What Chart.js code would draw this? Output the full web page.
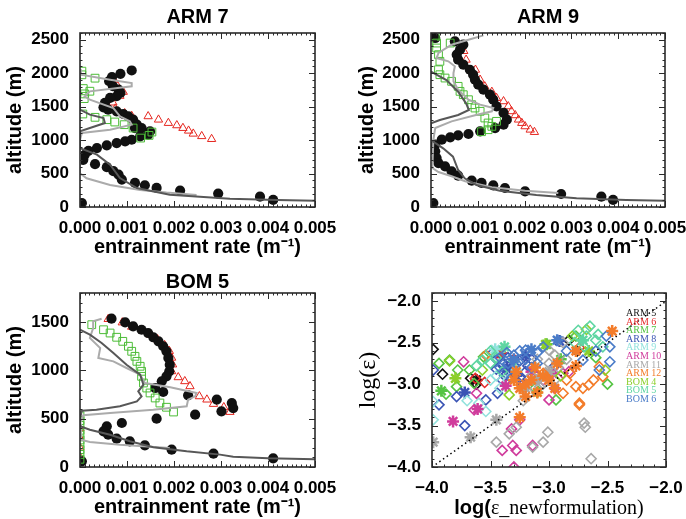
<!DOCTYPE html>
<html><head><meta charset="utf-8">
<script src="https://cdn.jsdelivr.net/npm/chart.js@4"></script>
<style>
body{margin:0;background:#fff;width:686px;height:519px;position:relative;overflow:hidden}
canvas{position:absolute}
</style></head><body>
<canvas id="c1" width="343" height="260" style="left:0;top:0"></canvas>
<canvas id="c2" width="343" height="260" style="left:343px;top:0"></canvas>
<canvas id="c3" width="343" height="259" style="left:0;top:260px"></canvas>
<canvas id="c4" width="343" height="259" style="left:343px;top:260px"></canvas>
<script>
// ---------- tick values / labels ----------
const profXTicks = [0, 0.001, 0.002, 0.003, 0.004, 0.005];
const profXLabels = ['0.000', '0.001', '0.002', '0.003', '0.004', '0.005'];
const armYTicks = [0, 500, 1000, 1500, 2000, 2500];
const armYLabels = ['0', '500', '1000', '1500', '2000', '2500'];
const bomYTicks = [0, 500, 1000, 1500];
const bomYLabels = ['0', '500', '1000', '1500'];
const logTicks = [-4, -3.5, -3, -2.5, -2];
const logLabels = ['\u22124.0', '\u22123.5', '\u22123.0', '\u22122.5', '\u22122.0'];
const panelTitles = ['ARM 7', 'ARM 9', 'BOM 5'];

// ---------- ARM 7 profiles [entrainment rate, altitude] ----------
const arm7Dots = [[0.00110,2040],[0.00086,1990],[0.00068,1940],[0.00062,1880],[0.00070,1805],[0.00082,1755],[0.00086,1705],[0.00078,1655],[0.00064,1630],[0.00053,1555],[0.00050,1490],[0.00060,1455],[0.00078,1430],[0.00092,1390],[0.00103,1355],[0.00113,1305],[0.00121,1230],[0.00117,1180],[0.00131,1180],[0.00149,1130],[0.00145,1080],[0.00128,1055],[0.00110,1005],[0.00096,980],[0.00078,955],[0.00057,920],[0.00036,880],[0.00018,840],[0.00010,780],[0.00007,705],[0.00032,640],[0.00057,595],[0.00071,535],[0.00082,485],[0.00089,410],[0.00117,360],[0.00138,325],[0.00163,285],[0.00213,245],[0.00294,200],[0.00383,155],[0.00411,105],[0.00004,60]];
const arm7Tri = [[0.00072,1900],[0.00078,1830],[0.00092,1720],[0.00085,1660],[0.00070,1560],[0.00075,1470],[0.00095,1400],[0.00110,1360],[0.00145,1355],[0.00167,1305],[0.00188,1255],[0.00206,1220],[0.00219,1180],[0.00231,1140],[0.00241,1095],[0.00259,1058],[0.00280,1015]];
const arm7Sq = [[0.00004,2030],[0.00004,1975],[0.00032,1925],[0.00007,1770],[0.00021,1730],[0.00010,1690],[0.00009,1620],[0.00006,1390],[0.00032,1340],[0.00057,1305],[0.00074,1270],[0.00094,1230],[0.00113,1180],[0.00153,1120],[0.00147,1070],[0.00129,1030]];
const arm7Light = [[0,2060],[0.00002,1977],[0.00064,1902],[0.00110,1852],[0.00110,1803],[0.00021,1728],[0.00010,1654],[0.00021,1603],[0.00071,1479],[0.00085,1355],[0.00106,1280],[0.00110,1230],[0.00064,1155],[0.00004,1106],[0,1000],[0,503],[0.00014,430],[0.00064,330],[0.00128,255],[0.00184,215],[0.00248,180]];
const arm7Dark = [[0,1950],[0,1454],[0.00021,1380],[0.00050,1330],[0.00053,1255],[0.00021,1180],[0,1131],[0,880],[0.00036,782],[0.00064,632],[0.00085,433],[0.00121,284],[0.00191,184],[0.00319,124],[0.00420,104],[0.00500,94]];

// ---------- ARM 9 profiles ----------
const arm9Dots = [[0.00009,2525],[0.00051,2476],[0.00069,2425],[0.00062,2350],[0.00055,2276],[0.00058,2201],[0.00069,2126],[0.00083,2051],[0.00090,1977],[0.00094,1902],[0.00101,1828],[0.00112,1753],[0.00126,1678],[0.00133,1603],[0.00140,1504],[0.00155,1405],[0.00162,1305],[0.00155,1230],[0.00137,1180],[0.00105,1131],[0.00080,1091],[0.00058,1071],[0.00041,1041],[0.00023,1006],[0.00009,931],[0.00009,832],[0.00012,732],[0.00016,657],[0.00030,608],[0.00044,533],[0.00058,468],[0.00087,393],[0.00108,359],[0.00133,324],[0.00158,284],[0.00201,234],[0.00278,194],[0.00364,154],[0.00389,105],[0.00005,60]];
const arm9Tri = [[0.00070,2330],[0.00075,2200],[0.00095,2050],[0.00105,1900],[0.00115,1800],[0.00130,1720],[0.00140,1628],[0.00155,1579],[0.00165,1504],[0.00172,1430],[0.00180,1370],[0.00187,1305],[0.00194,1255],[0.00201,1205],[0.00212,1155],[0.00221,1120]];
const arm9Sq = [[0.00009,2550],[0.00012,2450],[0.00012,2376],[0.00041,2450],[0.00016,2276],[0.00019,2177],[0.00016,2051],[0.00019,1977],[0.00030,1927],[0.00044,1878],[0.00058,1803],[0.00062,1728],[0.00069,1678],[0.00080,1603],[0.00087,1529],[0.00094,1479],[0.00105,1430],[0.00115,1330],[0.00122,1255],[0.00130,1205],[0.00122,1155],[0.00140,1280],[0.00108,1125]];
const arm9Light = [[0.00112,2565],[0.00080,2500],[0.00044,2425],[0.00016,2301],[0.00012,2226],[0.00037,2177],[0.00051,2102],[0.00048,2002],[0.00048,1878],[0.00058,1753],[0.00080,1603],[0.00105,1529],[0.00133,1479],[0.00130,1430],[0.00094,1370],[0.00044,1280],[0.00009,1180],[0.00005,1000],[0.00003,583],[0.00016,523],[0.00044,459],[0.00073,384],[0.00130,294],[0.00201,244],[0.00272,209]];
const arm9Dark = [[0,2022],[0.00033,1897],[0.00058,1723],[0.00075,1549],[0.00081,1449],[0.00058,1375],[0.00019,1300],[0,1250],[0,1000],[0.00026,877],[0.00047,752],[0.00058,553],[0.00072,429],[0.00097,329],[0.00147,244],[0.00225,179],[0.00311,130],[0.00417,105],[0.00499,94]];

// ---------- BOM 5 profiles ----------
const bom5Dots = [[0.00067,1534],[0.00096,1497],[0.00113,1455],[0.00131,1420],[0.00145,1386],[0.00156,1342],[0.00167,1300],[0.00177,1249],[0.00184,1197],[0.00188,1128],[0.00191,1058],[0.00190,990],[0.00184,938],[0.00174,887],[0.00160,817],[0.00177,776],[0.00230,741],[0.00291,697],[0.00301,576],[0.00323,662],[0.00326,610],[0.00245,541],[0.00163,500],[0.00089,455],[0.00057,421],[0.00050,369],[0.00060,334],[0.00078,293],[0.00106,266],[0.00138,224],[0.00195,179],[0.00284,138],[0.00411,90],[0.00004,59]];
const bom5Tri = [[0.00060,1530],[0.00090,1495],[0.00110,1450],[0.00135,1410],[0.00150,1370],[0.00165,1320],[0.00180,1260],[0.00190,1200],[0.00195,1130],[0.00197,1060],[0.00195,990],[0.00209,928],[0.00223,887],[0.00234,835],[0.00254,731],[0.00270,697],[0.00284,652],[0.00306,618],[0.00319,569],[0,100],[0,200],[0,300],[0,400]];
const bom5Sq = [[0.00025,1472],[0.00050,1420],[0.00064,1386],[0.00078,1342],[0.00091,1300],[0.00103,1249],[0.00110,1197],[0.00117,1145],[0.00121,1093],[0.00128,1042],[0.00131,990],[0.00131,938],[0.00135,869],[0.00142,817],[0.00149,766],[0.00160,714],[0.00170,662],[0.00184,618],[0.00199,569],[0,80],[0,130],[0,180],[0,230],[0,280],[0,330],[0,380],[0,430],[0,480],[0,530]];
const bom5Light = [[0.00046,1534],[0.00028,1507],[0.00028,1438],[0.00021,1334],[0.00043,1231],[0.00039,1128],[0.00071,1093],[0.00099,1024],[0.00128,955],[0.00138,869],[0.00192,825],[0.00248,766],[0.00245,731],[0.00230,697],[0.00227,628],[0.00156,593],[0.00064,559],[0.00007,535],[0,450],[0.00002,283],[0.00021,259],[0.00085,231],[0.00191,197]];
const bom5Dark = [[0,1420],[0.00021,1369],[0.00046,1283],[0.00071,1179],[0.00099,1058],[0.00128,955],[0.00135,851],[0.00124,783],[0.00131,731],[0.00121,679],[0.00085,628],[0.00035,593],[0.00004,583],[0,500],[0,421],[0.00021,386],[0.00064,334],[0.00106,266],[0.00156,204],[0.00227,162],[0.00298,128],[0.00326,107],[0.00400,90],[0.00500,80]];

// ---------- log-log scatter [log(eps_new), log(eps)] ----------
const seriesNames = ['ARM 5','ARM 6','ARM 7','ARM 8','ARM 9','ARM 10','ARM 11','ARM 12','BOM 4','BOM 5','BOM 6'];
const seriesColors = ['#111111','#e52a2a','#55c443','#3a54b4','#92e2dd','#d03c9c','#a8a8a8','#f37c2a','#8ccf2a','#5ed6a2','#4a7cc8'];
const arm5Dia = [[-3.99,-2.58],[-3.91,-2.88],[-3.67,-2.93],[-2.83,-2.47],[-2.76,-2.60],[-3.62,-3.00]];
const arm5Ast = [[-3.62,-2.95]];
const arm6Dia = [[-3.41,-2.62],[-3.63,-2.93],[-2.74,-2.56],[-3.30,-2.70],[-3.55,-2.98]];
const arm6Ast = [[-3.42,-2.64]];
const arm7Dia = [[-3.94,-2.75],[-3.85,-2.71],[-3.78,-2.83],[-3.68,-2.83],[-3.64,-2.99],[-3.79,-3.03],[-2.94,-3.19],[-2.77,-2.42],[-3.88,-3.12],[-2.60,-2.68],[-3.12,-3.05],[-2.50,-3.00],[-3.56,-2.67]];
const arm7Ast = [[-3.92,-3.08],[-3.02,-2.52],[-2.90,-2.70]];
const arm8Dia = [[-3.99,-2.83],[-3.94,-3.25],[-3.79,-3.15],[-3.72,-3.50],[-3.54,-3.19],[-3.44,-3.11],[-3.35,-2.85],[-3.30,-2.78],[-3.25,-2.72],[-3.20,-2.85],[-3.40,-2.95],[-3.15,-2.70],[-2.95,-2.78],[-3.45,-2.70],[-3.40,-2.75],[-3.35,-2.68],[-3.30,-2.85],[-3.25,-2.92],[-3.45,-2.82],[-3.38,-2.90],[-3.18,-2.78],[-3.12,-2.88],[-3.22,-3.00],[-3.48,-2.62]];
const arm8Ast = [[-2.91,-2.48],[-3.36,-2.80],[-3.28,-2.90],[-3.20,-2.65],[-3.72,-3.10]];
const arm9Dia = [[-3.99,-3.21],[-3.99,-3.43],[-3.54,-3.33],[-3.60,-3.23],[-3.28,-2.83],[-3.70,-3.20],[-3.45,-2.90],[-3.10,-2.95],[-3.50,-2.95],[-3.42,-3.05],[-3.35,-2.95]];
const arm9Ast = [[-3.46,-2.58]];
const arm10Dia = [[-3.73,-2.73],[-3.32,-3.54],[-3.31,-3.74],[-3.28,-3.80],[-3.40,-3.80],[-3.14,-3.74],[-2.88,-2.87],[-2.83,-2.85],[-3.00,-3.19],[-3.25,-3.43],[-3.30,-4.00],[-3.64,-3.31],[-3.62,-3.11],[-3.05,-2.95],[-2.95,-3.05]];
const arm10Ast = [[-3.82,-3.45],[-3.61,-3.30],[-3.37,-3.02],[-3.15,-2.85],[-3.22,-3.03],[-2.97,-2.87]];
const arm11Dia = [[-3.45,-3.70],[-3.34,-3.60],[-3.28,-3.52],[-3.14,-3.76],[-3.05,-3.70],[-3.01,-3.58],[-2.70,-3.47],[-2.69,-3.52],[-2.64,-3.90],[-3.00,-2.59],[-2.88,-2.50],[-3.08,-3.03],[-3.17,-3.11],[-2.95,-2.65],[-3.22,-3.20],[-3.10,-2.70],[-3.00,-2.75],[-2.92,-2.80],[-3.05,-3.00],[-2.85,-2.70],[-3.15,-2.90],[-2.95,-2.95]];
const arm11Ast = [[-3.99,-3.70],[-3.67,-3.64],[-3.45,-3.43],[-3.11,-2.95],[-3.20,-3.05],[-3.00,-2.85]];
const arm12Dia = [[-2.88,-3.11],[-2.77,-3.03],[-2.66,-3.01],[-2.57,-2.79],[-2.54,-2.91],[-2.74,-3.23],[-3.05,-2.87],[-3.54,-2.65],[-2.62,-2.95],[-2.85,-2.95],[-2.82,-2.87],[-2.71,-3.05],[-2.74,-3.25]];
const arm12Ast = [[-2.46,-2.36],[-2.77,-2.60],[-2.77,-2.78],[-3.25,-3.05],[-3.25,-3.40],[-3.15,-2.95],[-3.05,-2.90],[-3.30,-2.95],[-3.20,-3.00],[-2.93,-2.75],[-3.28,-2.85],[-3.10,-3.10],[-3.00,-2.95],[-2.95,-3.05],[-3.20,-3.15],[-3.12,-2.80]];
const bom4Dia = [[-2.68,-2.34],[-2.80,-2.42],[-3.57,-2.83],[-3.34,-3.13],[-2.52,-2.83],[-3.85,-2.72],[-3.10,-3.10],[-2.90,-2.90]];
const bom4Ast = [[-3.03,-2.52],[-3.80,-2.93],[-2.66,-2.60]];
const bom5Dia = [[-3.57,-2.71],[-3.50,-2.75],[-3.45,-2.68],[-2.68,-2.42],[-2.60,-2.47],[-2.54,-2.55],[-3.62,-2.78],[-3.30,-2.72],[-2.78,-2.50],[-3.40,-2.85],[-2.75,-2.35],[-2.65,-2.30],[-2.58,-2.40],[-2.70,-2.55],[-3.50,-2.60]];
const bom5Ast = [[-3.38,-2.55],[-2.71,-2.47]];
const bom6Dia = [[-2.51,-2.42],[-2.48,-2.55],[-2.48,-2.73],[-2.57,-2.83],[-2.71,-2.71],[-3.20,-2.59],[-3.05,-2.55],[-3.35,-2.75],[-3.30,-2.65],[-3.25,-2.60],[-2.60,-2.60],[-2.85,-2.60],[-3.10,-2.62],[-3.42,-2.80],[-3.42,-2.68],[-3.36,-2.62],[-3.28,-2.75],[-3.20,-2.70],[-3.15,-2.80],[-3.32,-2.92],[-3.10,-2.75]];
const bom6Ast = [[-2.93,-2.47],[-3.15,-2.58],[-3.30,-2.70]];
const oneToOne = [[-4,-4],[-2,-2]];

const diaSets = [arm5Dia, arm6Dia, arm7Dia, arm8Dia, arm9Dia, arm10Dia, arm11Dia, arm12Dia, bom4Dia, bom5Dia, bom6Dia];
const astSets = [arm5Ast, arm6Ast, arm7Ast, arm8Ast, arm9Ast, arm10Ast, arm11Ast, arm12Ast, bom4Ast, bom5Ast, bom6Ast];

// ---------- helpers ----------
const toXY = a => a.map(p => ({x: p[0], y: p[1]}));
function minorVals(min, max, step) {
  const out = [];
  for (let i = Math.ceil(min / step - 1e-9); i <= Math.floor(max / step + 1e-9); i++) out.push(i * step);
  return out;
}
const SANS = 'Liberation Sans', SERIF = 'Liberation Serif';

const framePlugin = {
  id: 'frame',
  afterDraw(chart, args, o) {
    const ctx = chart.ctx, a = chart.chartArea, xs = chart.scales.x, ys = chart.scales.y;
    ctx.save();
    ctx.strokeStyle = '#2a2a2a';
    ctx.lineWidth = 1;
    ctx.beginPath();
    const xt = (vals, len) => vals.forEach(v => {
      const p = Math.round(xs.getPixelForValue(v)) + 0.5;
      ctx.moveTo(p, a.bottom); ctx.lineTo(p, a.bottom - len);
      ctx.moveTo(p, a.top); ctx.lineTo(p, a.top + len);
    });
    const yt = (vals, len) => vals.forEach(v => {
      const p = Math.round(ys.getPixelForValue(v)) + 0.5;
      ctx.moveTo(a.left, p); ctx.lineTo(a.left + len, p);
      ctx.moveTo(a.right, p); ctx.lineTo(a.right - len, p);
    });
    xt(minorVals(xs.min, xs.max, o.xMinor), 2.5);
    yt(minorVals(ys.min, ys.max, o.yMinor), 2.5);
    xt(o.xMajor, 6);
    yt(o.yMajor, 6);
    ctx.stroke();
    ctx.lineWidth = 1.6;
    ctx.strokeRect(a.left, a.top, a.right - a.left, a.bottom - a.top);
    ctx.fillStyle = '#000';
    if (o.title) {
      ctx.font = 'bold 20px "' + SANS + '"';
      ctx.textAlign = 'center';
      ctx.textBaseline = 'alphabetic';
      ctx.fillText(o.title, (a.left + a.right) / 2, o.titleY);
    }
    if (o.legend) {
      ctx.font = '10px "' + SERIF + '"';
      ctx.textAlign = 'left';
      ctx.textBaseline = 'alphabetic';
      seriesNames.forEach((n, i) => {
        ctx.fillStyle = seriesColors[i];
        ctx.fillText(n, 283, 56 + i * 8.6);
      });
    }
    if (o.logXTitle) {
      const p1 = 'log(', p2 = '\u03b5_newformulation)';
      const f1 = 'bold 20px "' + SANS + '"', f2 = '20px "' + SERIF + '"';
      ctx.font = f1; const w1 = ctx.measureText(p1).width;
      ctx.font = f2; const w2 = ctx.measureText(p2).width;
      const x0 = (a.left + a.right) / 2 - (w1 + w2) / 2;
      ctx.textAlign = 'left';
      ctx.textBaseline = 'alphabetic';
      ctx.fillStyle = '#000';
      ctx.font = f1; ctx.fillText(p1, x0, 253.5);
      ctx.font = f2; ctx.fillText(p2, x0 + w1, 253.5);
    }
    ctx.restore();
  }
};

function axis(min, max, ticks, labels, size, title) {
  return {
    type: 'linear', min, max,
    afterBuildTicks: s => { s.ticks = ticks.map(v => ({value: v})); },
    ticks: {
      autoSkip: false, maxRotation: 0, minRotation: 0, padding: 3, color: '#000',
      font: {family: SANS, size: 17, weight: 'bold'},
      callback: (v, i) => labels[i]
    },
    grid: {display: false},
    border: {display: false},
    title: title,
    afterFit: s => {
      if (s.isHorizontal()) { s.height = size; s.paddingLeft = 0; s.paddingRight = 0; }
      else { s.width = size; s.paddingTop = 0; s.paddingBottom = 0; }
    }
  };
}

function baseOptions(cfg) {
  return {
    responsive: false, animation: false, devicePixelRatio: 1, events: [],
    layout: {padding: {top: 33, right: cfg.padRight, bottom: 0, left: 0}},
    plugins: {legend: {display: false}, tooltip: {enabled: false}, title: {display: false}, frame: cfg.frame},
    scales: {
      x: axis(cfg.xMin, cfg.xMax, cfg.xTicks, cfg.xLabels, cfg.xHeight, cfg.xTitle),
      y: axis(cfg.yMin, cfg.yMax, cfg.yTicks, cfg.yLabels, cfg.yWidth, cfg.yTitle)
    }
  };
}

function profDatasets(light, dark, sq, dots, tri) {
  return [
    {data: toXY(dark), showLine: true, borderColor: '#575757', borderWidth: 2, pointRadius: 0, clip: 0},
    {data: toXY(light), showLine: true, borderColor: '#ababab', borderWidth: 2, pointRadius: 0, clip: 0},
    {data: toXY(sq), pointStyle: 'rect', pointRadius: 5.5, pointBorderColor: '#4cbc37', pointBorderWidth: 1, pointBackgroundColor: 'rgba(0,0,0,0)', clip: 0},
    {data: toXY(dots), pointStyle: 'circle', pointRadius: 5.1, pointBorderColor: '#111', pointBorderWidth: 0, pointBackgroundColor: '#111', clip: 0},
    {data: toXY(tri), pointStyle: 'triangle', pointRadius: 4.8, pointBorderColor: '#e5261f', pointBorderWidth: 1, pointBackgroundColor: 'rgba(0,0,0,0)', clip: 0}
  ];
}

const xTitleProf = (pb) => ({display: true, text: 'entrainment rate (m\u207b\u00b9)', color: '#000', font: {family: SANS, size: 20, weight: 'bold'}, padding: {top: 0, bottom: pb}});
const yTitleAlt = (pt) => ({display: true, text: 'altitude (m)', color: '#000', font: {family: SANS, size: 20, weight: 'bold'}, padding: {top: pt, bottom: 0}});

// ARM 7
new Chart(document.getElementById('c1'), {
  type: 'scatter',
  data: {datasets: profDatasets(arm7Light, arm7Dark, arm7Sq, arm7Dots, arm7Tri)},
  options: baseOptions({padRight: 28, yWidth: 80, xHeight: 53, xMin: 0, xMax: 0.005, yMin: 0, yMax: 2600,
    xTicks: profXTicks, xLabels: profXLabels, yTicks: armYTicks, yLabels: armYLabels,
    xTitle: xTitleProf(1), yTitle: yTitleAlt(3),
    frame: {title: panelTitles[0], titleY: 23, xMinor: 0.0001, yMinor: 100, xMajor: profXTicks, yMajor: armYTicks}}),
  plugins: [framePlugin]
});
// ARM 9
new Chart(document.getElementById('c2'), {
  type: 'scatter',
  data: {datasets: profDatasets(arm9Light, arm9Dark, arm9Sq, arm9Dots, arm9Tri)},
  options: baseOptions({padRight: 21, yWidth: 88, xHeight: 53, xMin: 0, xMax: 0.005, yMin: 0, yMax: 2600,
    xTicks: profXTicks, xLabels: profXLabels, yTicks: armYTicks, yLabels: armYLabels,
    xTitle: xTitleProf(1), yTitle: yTitleAlt(12),
    frame: {title: panelTitles[1], titleY: 23, xMinor: 0.0001, yMinor: 100, xMajor: profXTicks, yMajor: armYTicks}}),
  plugins: [framePlugin]
});
// BOM 5
new Chart(document.getElementById('c3'), {
  type: 'scatter',
  data: {datasets: profDatasets(bom5Light, bom5Dark, bom5Sq, bom5Dots, bom5Tri)},
  options: baseOptions({padRight: 28, yWidth: 80, xHeight: 52, xMin: 0, xMax: 0.005, yMin: 0, yMax: 1800,
    xTicks: profXTicks, xLabels: profXLabels, yTicks: bomYTicks, yLabels: bomYLabels,
    xTitle: xTitleProf(0), yTitle: yTitleAlt(3),
    frame: {title: panelTitles[2], titleY: 28, xMinor: 0.0001, yMinor: 100, xMajor: profXTicks, yMajor: bomYTicks}}),
  plugins: [framePlugin]
});
// log-log scatter
const scatterSets = [{data: toXY(oneToOne), showLine: true, borderColor: '#000', borderWidth: 1.5, borderDash: [1.5, 3], pointRadius: 0, clip: 0, order: 0}];
seriesNames.forEach((n, i) => {
  scatterSets.push({data: toXY(diaSets[i]), pointStyle: 'rectRot', pointRadius: 5, pointBorderColor: seriesColors[i], pointBorderWidth: 1.6, pointBackgroundColor: 'rgba(0,0,0,0)', clip: 0, order: 100 - 2 * i});
  scatterSets.push({data: toXY(astSets[i]), pointStyle: 'star', pointRadius: 6, pointBorderColor: seriesColors[i], pointBorderWidth: 2.5, pointBackgroundColor: seriesColors[i], clip: 0, order: i === 7 ? 50 : 99 - 2 * i});
});
new Chart(document.getElementById('c4'), {
  type: 'scatter',
  data: {datasets: scatterSets},
  options: baseOptions({padRight: 20, yWidth: 89, xHeight: 52, xMin: -4, xMax: -2, yMin: -4, yMax: -1.9,
    xTicks: logTicks, xLabels: logLabels, yTicks: logTicks, yLabels: logLabels,
    xTitle: {display: false},
    yTitle: {display: true, text: 'log(\u03b5)', color: '#000', font: {family: SERIF, size: 24, weight: 'normal'}, padding: {top: 11, bottom: 0}},
    frame: {xMinor: 0.1, yMinor: 0.1, xMajor: logTicks, yMajor: logTicks, legend: true, logXTitle: true}}),
  plugins: [framePlugin]
});
</script>
</body></html>
